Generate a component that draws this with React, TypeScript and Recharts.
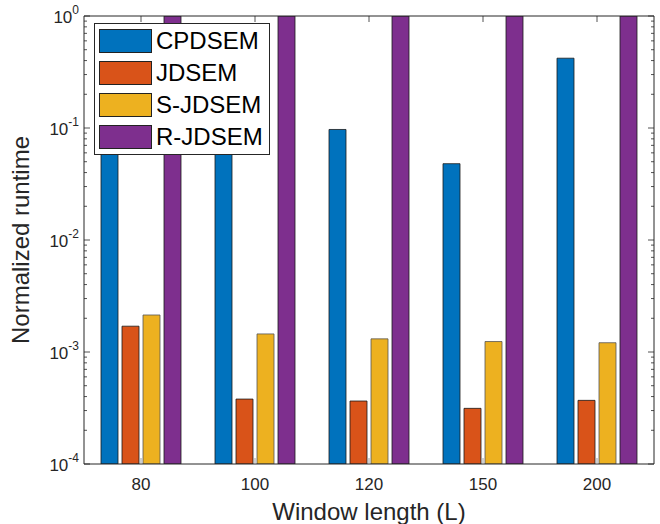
import React from "react";
import { BarChart, Bar, XAxis, YAxis, Legend, Label } from "recharts";

// values (log axis)
const windowLengths = ["80", "100", "120", "150", "200"];
const seriesNames = ["CPDSEM", "JDSEM", "S-JDSEM", "R-JDSEM"];
const cpdsem = [0.12, 0.11, 0.097, 0.048, 0.42];
const jdsem = [0.0017, 0.00038, 0.000365, 0.000314, 0.00037];
const sJdsem = [0.00214, 0.00145, 0.00131, 0.00124, 0.00121];
const rJdsem = [1, 1, 1, 1, 1];

const decadeTicks = [1e-4, 1e-3, 1e-2, 1e-1, 1];
const minorSteps = [2, 3, 4, 5, 6, 7, 8, 9];
const yTicks = [
  ...decadeTicks,
  ...decadeTicks.slice(0, 4).flatMap((d) => minorSteps.map((m) => m * d)),
];

const data = windowLengths.map((L, i) => ({
  L,
  CPDSEM: cpdsem[i],
  JDSEM: jdsem[i],
  "S-JDSEM": sJdsem[i],
  "R-JDSEM": rJdsem[i],
}));

const axisColor = "#262626";
const font = "'Liberation Sans', Arial, sans-serif";

const isMajor = (v: number) => decadeTicks.includes(v);

const LeftTick = (props: any) => {
  const { x, y, payload } = props;
  const major = isMajor(payload.value);
  const exp = Math.round(Math.log10(payload.value));
  return (
    <g>
      <line x1={x} x2={x + (major ? 6 : 3)} y1={y} y2={y} stroke={axisColor} strokeWidth={0.8} />
      {major && (
        <text x={x - 5} y={y + 7} textAnchor="end" fontSize={17} fill={axisColor} fontFamily={font}>
          10
          <tspan dy={-9} fontSize={12}>
            {exp}
          </tspan>
        </text>
      )}
    </g>
  );
};

const RightTick = (props: any) => {
  const { x, y, payload } = props;
  const major = isMajor(payload.value);
  return <line x1={x} x2={x - (major ? 6 : 3)} y1={y} y2={y} stroke={axisColor} strokeWidth={0.8} />;
};

const BottomTick = (props: any) => {
  const { x, y, payload } = props;
  return (
    <g>
      <line x1={x} x2={x} y1={y} y2={y - 6} stroke="#888" strokeWidth={0.8} />
      <text x={x} y={y + 26} textAnchor="middle" fontSize={17} fill={axisColor} fontFamily={font}>
        {payload.value}
      </text>
    </g>
  );
};

const TopTick = (props: any) => {
  const { x, y } = props;
  return <line x1={x} x2={x} y1={y} y2={y + 6} stroke={axisColor} strokeWidth={0.8} />;
};

const LegendBox = ({ payload }: any) => {
  const items = [...(payload || [])].sort(
    (a: any, b: any) => seriesNames.indexOf(a.value) - seriesNames.indexOf(b.value)
  );
  return (
    <div
      style={{
        border: "1px solid #262626",
        background: "#fff",
        padding: "1px 0 1px 4px",
        width: 170,
        fontFamily: font,
      }}
    >
      {items.map((p: any) => (
        <div key={p.value} style={{ display: "flex", alignItems: "center", height: 32 }}>
          <span
            style={{
              display: "inline-block",
              width: 53,
              height: 24,
              background: p.color,
              border: "1px solid #222",
              boxSizing: "border-box",
            }}
          />
          <span style={{ marginLeft: 4, fontSize: 24, color: "#000", lineHeight: "24px" }}>{p.value}</span>
        </div>
      ))}
    </div>
  );
};

export default function App() {
  return (
    <div style={{ position: "absolute", left: 0, top: 0, background: "#fff", fontFamily: font }}>
      <BarChart
        width={660}
        height={524}
        data={data}
        margin={{ top: 0, right: 0, bottom: 0, left: 0 }}
        barCategoryGap={17}
        barGap={4}
      >
        <XAxis
          dataKey="L"
          height={60}
          interval={0}
          tickSize={0}
          tickMargin={0}
          tick={<BottomTick />}
          stroke={axisColor}
        >
          <Label
            value="Window length (L)"
            position="insideBottom"
            offset={4}
            style={{ fontSize: 24, fill: axisColor, fontFamily: font }}
          />
        </XAxis>
        <XAxis
          xAxisId="top"
          dataKey="L"
          orientation="top"
          height={16}
          interval={0}
          tickSize={0}
          tickMargin={0}
          tick={<TopTick />}
          stroke={axisColor}
        />
        <YAxis
          scale="log"
          domain={[1e-4, 1]}
          allowDataOverflow
          ticks={yTicks}
          interval={0}
          width={84}
          tickSize={0}
          tickMargin={0}
          tick={<LeftTick />}
          stroke={axisColor}
        >
          <Label
            value="Normalized runtime"
            angle={-90}
            position="insideLeft"
            offset={20}
            style={{ fontSize: 24, fill: axisColor, fontFamily: font, textAnchor: "middle" }}
          />
        </YAxis>
        <YAxis
          yAxisId="right"
          orientation="right"
          scale="log"
          domain={[1e-4, 1]}
          allowDataOverflow
          ticks={yTicks}
          interval={0}
          width={6}
          tickSize={0}
          tickMargin={0}
          tick={<RightTick />}
          stroke={axisColor}
        />
        <Legend
          layout="vertical"
          align="center"
          verticalAlign="middle"
          content={<LegendBox />}
          wrapperStyle={{ left: 94, top: 23, width: 176 }}
        />
        <Bar dataKey="CPDSEM" fill="#0072BD" stroke="#1a1a1a" strokeWidth={0.8} isAnimationActive={false} />
        <Bar dataKey="JDSEM" fill="#D95319" stroke="#1a1a1a" strokeWidth={0.8} isAnimationActive={false} />
        <Bar dataKey="S-JDSEM" fill="#EDB120" stroke="#555" strokeWidth={0.8} isAnimationActive={false} />
        <Bar dataKey="R-JDSEM" fill="#7E2F8E" stroke="#1a1a1a" strokeWidth={0.8} isAnimationActive={false} />
      </BarChart>
    </div>
  );
}
